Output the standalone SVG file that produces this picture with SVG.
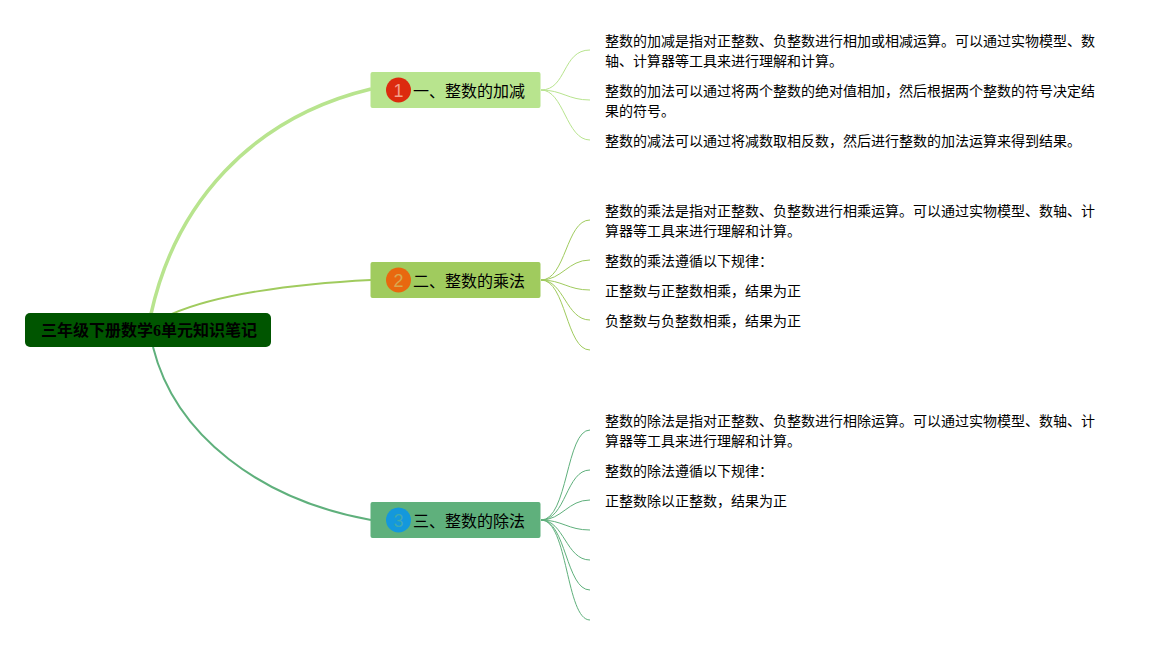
<svg xmlns="http://www.w3.org/2000/svg" width="1165" height="645" viewBox="0 0 1165 645">
<style>
text{font-family:"Liberation Sans","Noto Sans CJK SC",sans-serif;fill:#000}
.t{font-size:14px}
.b{font-size:16px}
.r{font-family:"Liberation Serif","Noto Sans CJK SC",serif;font-size:16px;font-weight:700}
.n{font-size:18px;text-anchor:middle}
.c{fill:none}
.c1{stroke:#b8e48e}
.c2{stroke:#a0cb5e}
.c3{stroke:#5fb07c}
.s{stroke-width:1}
</style>
<rect width="1165" height="645" fill="#fff"/>
<g id="connectors">
<path class="c c1" stroke-width="3.5" d="M151 314C175 205 250 118 371 89"/>
<path class="c c2" stroke-width="2" d="M172 314C215 295 290 284 371 280"/>
<path class="c c3" stroke-width="2" d="M153 347C175 435 260 500 371 520"/>
<g class="c c1 s">
<path d="M541 90C567 90 562 50 590 50"/>
<path d="M541 90C562 90 568 100 590 100"/>
<path d="M541 90C564 90 566 140 590 140"/>
</g>
<g class="c c2 s">
<path d="M541 280C566 280 566 220 590 220"/>
<path d="M541 280C562 280 568 260 590 260"/>
<path d="M541 280C562 280 568 290 590 290"/>
<path d="M541 280C564 280 566 320 590 320"/>
<path d="M541 280C566 280 566 350 590 350"/>
</g>
<g class="c c3 s">
<path d="M541 520C568 520 566 430 590 430"/>
<path d="M541 520C566 520 566 470 590 470"/>
<path d="M541 520C562 520 568 500 590 500"/>
<path d="M541 520C562 520 568 530 590 530"/>
<path d="M541 520C564 520 566 560 590 560"/>
<path d="M541 520C566 520 566 590 590 590"/>
<path d="M541 520C568 520 566 620 590 620"/>
</g>
</g>
<g id="root">
<rect x="25" y="313" width="246" height="34" rx="5" fill="#005500"/>
<text class="r" x="41" y="336">三年级下册数学6单元知识笔记</text>
</g>
<g id="branch1">
<rect x="370.5" y="72" width="170" height="36" rx="2" fill="#b8e48e"/>
<circle cx="398.5" cy="90" r="12.5" fill="#dc2a0e"/>
<text class="n" x="398.5" y="97" style="fill:#f3a08c">1</text>
<text class="b" x="413" y="97">一、整数的加减</text>
</g>
<g id="branch2">
<rect x="370.5" y="262" width="170" height="36" rx="2" fill="#a0cb5e"/>
<circle cx="398.5" cy="280" r="12.5" fill="#e8680f"/>
<text class="n" x="398.5" y="287" style="fill:#d8a850">2</text>
<text class="b" x="413" y="287">二、整数的乘法</text>
</g>
<g id="branch3">
<rect x="370.5" y="502" width="170" height="36" rx="2" fill="#5fb07c"/>
<circle cx="398.5" cy="520" r="12.5" fill="#1498dc"/>
<text class="n" x="398.5" y="527" style="fill:#3fa8b0">3</text>
<text class="b" x="413" y="527">三、整数的除法</text>
</g>
<g id="leaf1-1"><text class="t" x="605" y="46">整数的加减是指对正整数、负整数进行相加或相减运算。可以通过实物模型、数</text><text class="t" x="605" y="66">轴、计算器等工具来进行理解和计算。</text></g>
<g id="leaf1-2"><text class="t" x="605" y="96">整数的加法可以通过将两个整数的绝对值相加，然后根据两个整数的符号决定结</text><text class="t" x="605" y="116">果的符号。</text></g>
<g id="leaf1-3"><text class="t" x="605" y="146">整数的减法可以通过将减数取相反数，然后进行整数的加法运算来得到结果。</text></g>
<g id="leaf2-1"><text class="t" x="605" y="216">整数的乘法是指对正整数、负整数进行相乘运算。可以通过实物模型、数轴、计</text><text class="t" x="605" y="236">算器等工具来进行理解和计算。</text></g>
<g id="leaf2-2"><text class="t" x="605" y="266">整数的乘法遵循以下规律：</text></g>
<g id="leaf2-3"><text class="t" x="605" y="296">正整数与正整数相乘，结果为正</text></g>
<g id="leaf2-4"><text class="t" x="605" y="326">负整数与负整数相乘，结果为正</text></g>
<g id="leaf3-1"><text class="t" x="605" y="426">整数的除法是指对正整数、负整数进行相除运算。可以通过实物模型、数轴、计</text><text class="t" x="605" y="446">算器等工具来进行理解和计算。</text></g>
<g id="leaf3-2"><text class="t" x="605" y="476">整数的除法遵循以下规律：</text></g>
<g id="leaf3-3"><text class="t" x="605" y="506">正整数除以正整数，结果为正</text></g>
</svg>
